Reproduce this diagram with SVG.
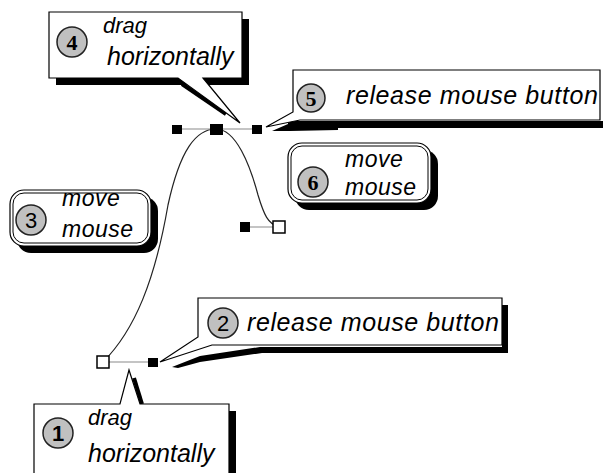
<svg xmlns="http://www.w3.org/2000/svg" width="603" height="473" viewBox="0 0 603 473">
<style>
.box{fill:#fff;stroke:#000;stroke-width:1.2}
.sh{fill:#000}
.num{fill:#c0c0c0;stroke:#222;stroke-width:1.5}
.t{font-family:"Liberation Sans",Arial,sans-serif;font-style:italic;fill:#000}
.ns{font-family:"Liberation Sans",Arial,sans-serif;font-size:22px;text-anchor:middle;fill:#000}
.nf{font-family:"Liberation Serif","Times New Roman",serif;font-weight:bold;font-size:22px;text-anchor:middle;fill:#000}
.hl{stroke:#8a8a8a;stroke-width:1.2}
.hd{fill:#000}
.an{fill:#fff;stroke:#000;stroke-width:1.5}
.crv{fill:none;stroke:#222;stroke-width:1.2}
</style>
<rect width="603" height="473" fill="#fff"/>
<g id="connectors">
<path class="crv" d="M103,362 C135,330 155,280 168,205 C180,150 196,129 216,129 C236,129 250,165 258,195 C264,215 268,224 279,227"/>
<line class="hl" x1="177" y1="129" x2="257" y2="129"/>
<line class="hl" x1="103" y1="362" x2="153" y2="362"/>
<line class="hl" x1="245" y1="227" x2="279" y2="227"/>
<rect class="hd" x="172" y="125" width="10" height="9"/>
<rect class="hd" x="252" y="125" width="10" height="9"/>
<rect class="hd" x="210" y="124" width="13" height="11"/>
<rect class="hd" x="148" y="358" width="10" height="9"/>
<rect class="hd" x="240" y="222" width="10" height="10"/>
<rect class="an" x="97" y="356" width="12" height="12"/>
<rect class="an" x="273" y="221" width="12" height="12"/>
</g>
<g id="callout4">
<rect class="sh" x="56" y="19" width="193" height="66"/>
<line x1="182" y1="84" x2="226" y2="114" stroke="#000" stroke-width="4"/>
<path class="box" d="M49,12 H242 V78 H203 L240,123 L178,78 H49 Z"/>
<circle class="num" cx="72" cy="42" r="15"/>
<text class="nf" x="72" y="50">4</text>
<text class="t" x="103" y="33" font-size="22">drag</text>
<text class="t" x="107" y="65" font-size="25">horizontally</text>
</g>
<g id="callout5">
<path class="sh" d="M272,131 L288,124 L288,121 L607,121 L607,128 L338,128 L338,130 L290,131 Z"/>
<path class="box" d="M293,70 H600 V120 H300 L266,127 L293,112 Z"/>
<circle class="num" cx="311" cy="98" r="14"/>
<text class="nf" x="311" y="106">5</text>
<text class="t" x="346" y="104" font-size="25" letter-spacing="0.6">release mouse button</text>
</g>
<g id="callout6">
<rect class="sh" x="295" y="150" width="143" height="60" rx="14"/>
<rect class="box" x="288" y="143" width="143" height="60" rx="14"/>
<rect fill="none" stroke="#000" stroke-width="1" x="291" y="146" width="137" height="54" rx="11"/>
<circle class="num" cx="313" cy="182" r="15"/>
<text class="nf" x="313" y="190">6</text>
<text class="t" x="345" y="167" font-size="23" letter-spacing="0.5">move</text>
<text class="t" x="345" y="195" font-size="23" letter-spacing="0.5">mouse</text>
</g>
<g id="callout3">
<rect class="sh" x="17" y="197" width="141" height="56" rx="14"/>
<rect class="box" x="10" y="190" width="141" height="56" rx="14"/>
<rect fill="none" stroke="#000" stroke-width="1" x="13" y="193" width="135" height="50" rx="11"/>
<circle class="num" cx="31" cy="220" r="15"/>
<text class="ns" x="31" y="228">3</text>
<text class="t" x="62" y="206" font-size="23" letter-spacing="0.5">move</text>
<text class="t" x="62" y="237" font-size="23" letter-spacing="0.5">mouse</text>
</g>
<g id="callout2">
<rect class="sh" x="502" y="305" width="6" height="48"/>
<path class="sh" d="M172,367 L200,356 L260,347 L508,347 L508,353 L262,353 L200,362 L178,368 Z"/>
<path class="box" d="M198,298 H502 V345 H212 L160,362 L198,337 Z"/>
<circle class="num" cx="223" cy="323" r="15"/>
<text class="ns" x="223" y="331">2</text>
<text class="t" x="247" y="331" font-size="25" letter-spacing="0.6">release mouse button</text>
</g>
<g id="callout1">
<rect class="sh" x="41" y="411" width="195" height="80"/>
<line x1="134" y1="378" x2="142" y2="404" stroke="#000" stroke-width="4"/>
<path class="box" d="M34,404 H120 L129,370 L140,404 H229 V490 H34 Z"/>
<circle class="num" cx="58" cy="433" r="15"/>
<text class="ns" x="58" y="441" font-weight="bold">1</text>
<text class="t" x="88" y="425" font-size="22">drag</text>
<text class="t" x="88" y="462" font-size="25">horizontally</text>
</g>
</svg>
